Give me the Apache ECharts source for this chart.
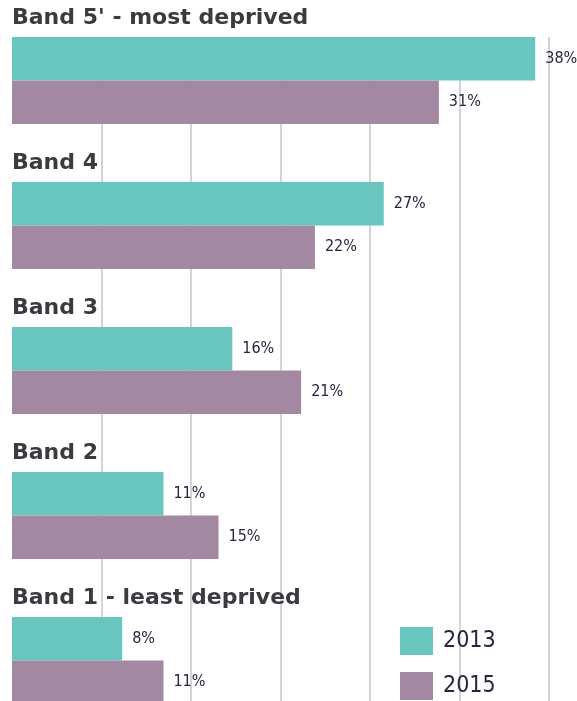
<!DOCTYPE html>
<html><head><meta charset="utf-8">
<script src="https://cdn.jsdelivr.net/npm/echarts@6/dist/echarts.min.js"></script>
<style>html,body{margin:0;padding:0;background:#fff}#c{width:577px;height:701px}</style>
</head><body><div id="c"></div>
<script>
const categories = ["Band 5' - most deprived", "Band 4", "Band 3", "Band 2", "Band 1 - least deprived"];
const seriesNames = ["2013", "2015"];
const values2013 = [38, 27, 16, 11, 8];
const values2015 = [31, 22, 21, 15, 11];
const axisMax = 39;
const gridInterval = 6.5;

const narrowFamily = "'DejaVu Sans Condensed', 'DejaVu Sans', sans-serif";
const narrowWeight = 'ultra-condensed';
const chart = echarts.init(document.getElementById('c'), null, {renderer: 'canvas'});
const valueLabel = {
  show: true, position: 'right', distance: 10,
  formatter: '{c}%',
  fontFamily: narrowFamily, fontWeight: narrowWeight, fontSize: 16, color: '#26263f'
};
chart.setOption({
  animation: false,
  backgroundColor: '#fff',
  legend: {
    data: seriesNames,
    orient: 'vertical', left: 400, top: 627, padding: 0,
    itemWidth: 33, itemHeight: 28, itemGap: 17, icon: 'rect',
    textStyle: {fontFamily: narrowFamily, fontWeight: narrowWeight, fontSize: 23, color: '#26263f', padding: [0, 0, 0, 5]}
  },
  grid: [
    {left: 12, width: 537, top: 8, height: 725, outerBoundsMode: 'none', containLabel: false},
    {left: 12, width: 537, top: 37, bottom: 0, outerBoundsMode: 'none', containLabel: false}
  ],
  xAxis: [
    {gridIndex: 0, type: 'value', min: 0, max: axisMax, show: false, splitLine: {show: false}},
    {gridIndex: 1, type: 'value', min: 0, max: axisMax, interval: gridInterval,
     axisLine: {show: false}, axisTick: {show: false}, axisLabel: {show: false},
     splitLine: {show: true, lineStyle: {width: 1.5, color: ['rgba(0,0,0,0)', '#c6c6c6', '#c6c6c6', '#c6c6c6', '#c6c6c6', '#c6c6c6', '#c6c6c6']}}}
  ],
  yAxis: [
    {gridIndex: 0, type: 'category', data: categories, inverse: true,
     axisLine: {show: false}, axisTick: {show: false}, splitLine: {show: false},
     axisLabel: {show: false}},
    {gridIndex: 1, type: 'value', min: 0, max: 1, show: false, splitLine: {show: false}}
  ],
  series: [
    {name: seriesNames[0], type: 'bar', xAxisIndex: 0, yAxisIndex: 0, data: values2013,
     barWidth: 43.5, barGap: '0%', itemStyle: {color: '#68C6BE'}, label: valueLabel},
    {name: seriesNames[1], type: 'bar', xAxisIndex: 0, yAxisIndex: 0, data: values2015,
     barWidth: 43.5, barGap: '0%', itemStyle: {color: '#A289A1'}, label: valueLabel},
    {name: 'bandLabels', type: 'scatter', xAxisIndex: 0, yAxisIndex: 0, silent: true,
     symbolSize: 0, z: 5,
     data: categories.map(c => [0, c]),
     label: {show: true, position: 'right', distance: 0, offset: [0, -62],
       formatter: p => p.value[1], opacity: 1,
       fontFamily: 'DejaVu Sans', fontWeight: 'bold', fontSize: 22, color: '#3a3a40'}}
  ]
});
</script></body></html>
